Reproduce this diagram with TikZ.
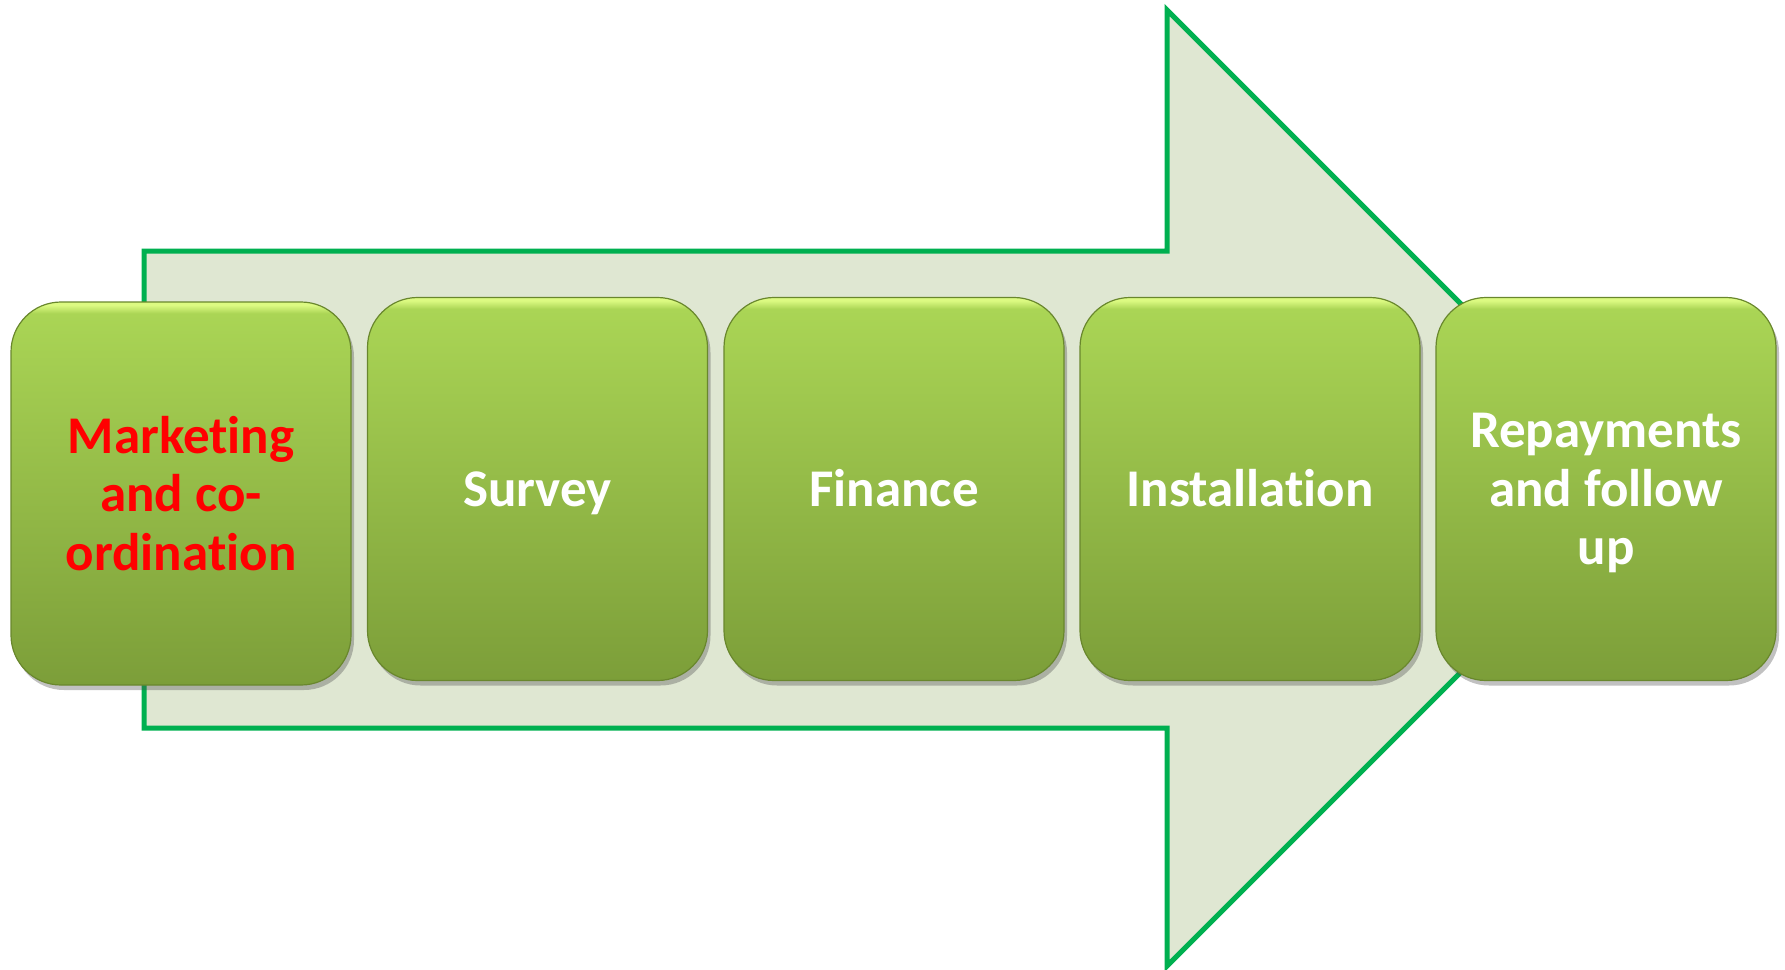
\documentclass[tikz,border=0pt]{standalone}
\usepackage{fontspec}
\setmainfont{Carlito}[Ligatures={NoCommon,NoRare,NoContextual}]
\usetikzlibrary{shadows}
\definecolor{arrowfill}{RGB}{223,231,210}
\definecolor{arrowline}{RGB}{0,176,80}
\definecolor{boxtop}{RGB}{170,213,85}
\definecolor{boxbot}{RGB}{124,158,57}
\definecolor{boxhl}{RGB}{220,250,130}
\definecolor{boxedge}{RGB}{105,135,45}
\pgfdeclareverticalshading{boxshade}{100bp}{color(0bp)=(boxbot); color(25bp)=(boxbot); color(73.5bp)=(boxtop); color(74.6bp)=(boxhl); color(100bp)=(boxhl)}
\tikzset{
  stepbox/.style={rectangle, rounded corners=25pt, minimum width=170pt, minimum height=191.5pt,
    inner sep=0pt, shading=boxshade, draw=boxedge, line width=0.6pt,
    drop shadow={shadow xshift=1.5pt, shadow yshift=-2.5pt, opacity=0.35, fill=black!70},
    font=\fontsize{26.5}{29.3}\selectfont\bfseries, align=center, text=white},
  oneline/.style={text height=17pt, text depth=0pt},
  arrowshape/.style={fill=arrowfill, draw=arrowline, line width=2.5pt, line join=miter}
}
\begin{document}
\begin{tikzpicture}[x=0.5pt, y=-0.5pt]
\useasboundingbox (0,0) rectangle (1785,970);
\coordinate (s1) at (144,251);
\coordinate (s2) at (1167,251);
\coordinate (h1) at (1167,10);
\coordinate (tip) at (1645,488);
\coordinate (h2) at (1167,966);
\coordinate (s3) at (1167,728);
\coordinate (s4) at (144,728);
\draw[arrowshape] (s1) -- (s2) -- (h1) -- (tip) -- (h2) -- (s3) -- (s4) -- cycle;
\node[stepbox, text=red] (b1) at (181,493.5) {Marketing\\and co-\\ordination};
\node[stepbox, oneline] (b2) at (537.5,489) {Survey};
\node[stepbox, oneline] (b3) at (894,489) {Finance};
\node[stepbox, oneline] (b4) at (1250,489) {Installation};
\node[stepbox, text depth=0pt] (b5) at (1606,489) {Repayments\\and follow\\up};
\end{tikzpicture}
\end{document}
